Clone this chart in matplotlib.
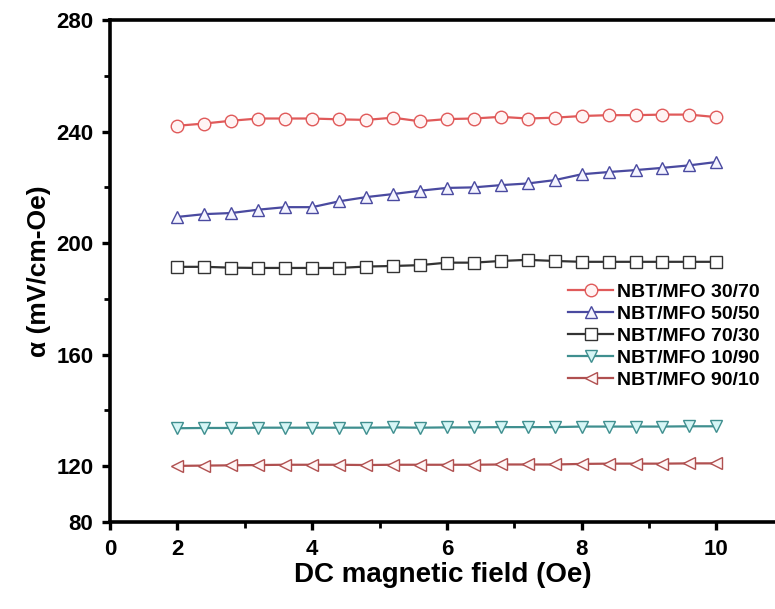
import matplotlib
matplotlib.use('Agg')
import matplotlib.pyplot as plt
from matplotlib.ticker import FixedLocator

plt.rcParams['font.family'] = ['Liberation Sans Narrow', 'Liberation Sans', 'DejaVu Sans']
plt.rcParams['font.weight'] = 'bold'

# field values (Oe)
field = [2.0, 2.4, 2.8, 3.2, 3.6, 4.0, 4.4, 4.8, 5.2, 5.6, 6.0,
         6.4, 6.8, 7.2, 7.6, 8.0, 8.4, 8.8, 9.2, 9.6, 10.0]

s_30_70 = [242.1, 242.9, 243.9, 244.7, 244.7, 244.7, 244.4, 244.2, 245.0, 243.7, 244.5,
           244.7, 245.3, 244.7, 245.0, 245.6, 245.9, 245.9, 246.1, 246.1, 245.2]
s_50_50 = [209.4, 210.4, 210.8, 212.0, 212.9, 212.9, 215.0, 216.5, 217.6, 218.8, 219.8,
           220.0, 220.8, 221.4, 222.6, 224.7, 225.5, 226.2, 227.0, 227.9, 229.1]
s_70_30 = [191.5, 191.5, 191.2, 191.1, 191.1, 191.1, 191.1, 191.6, 191.8, 192.1, 193.0,
           193.0, 193.6, 194.0, 193.6, 193.3, 193.3, 193.3, 193.3, 193.3, 193.3]
s_10_90 = [133.6, 133.7, 133.7, 133.8, 133.8, 133.8, 133.8, 133.8, 133.9, 133.8, 133.9,
           133.9, 134.0, 134.0, 134.0, 134.2, 134.2, 134.2, 134.2, 134.3, 134.3]
s_90_10 = [120.1, 120.2, 120.3, 120.4, 120.5, 120.5, 120.5, 120.4, 120.5, 120.5, 120.5,
           120.5, 120.6, 120.6, 120.6, 120.8, 120.9, 120.9, 120.9, 121.0, 121.0]

labels = ['NBT/MFO 30/70', 'NBT/MFO 50/50', 'NBT/MFO 70/30', 'NBT/MFO 10/90', 'NBT/MFO 90/10']

# tick positions and the labels printed on them in the original
xticks = [1, 2, 4, 6, 8, 10]
xtick_labels = ['0', '2', '4', '6', '8', '10']
yticks = [100, 120, 160, 200, 240, 280]
ytick_labels = ['80', '120', '160', '200', '240', '280']

fig = plt.figure(figsize=(7.75, 6.09), dpi=100)
ax = fig.add_axes([0.142, 0.143, 0.858, 0.824])

styles = [
    ('o', '#e05a5a', '#fff4f4'),
    ('^', '#4a4aa0', '#f4f4ff'),
    ('s', '#333333', '#ffffff'),
    ('v', '#3f8f8f', '#d6f6f6'),
    ('<', '#b05050', '#fff6f6'),
]
for ys, lab, (m, c, fc) in zip([s_30_70, s_50_50, s_70_30, s_10_90, s_90_10], labels, styles):
    ax.plot(field, ys, marker=m, color=c, mfc=fc, mec=c, ms=9, lw=1.6, mew=1.0, label=lab)

ax.set_xlim(1, 10.87)
ax.set_ylim(100, 280)
ax.set_xticks(xticks)
ax.set_xticklabels(xtick_labels)
ax.set_yticks(yticks)
ax.set_yticklabels(ytick_labels)
ax.xaxis.set_minor_locator(FixedLocator([3, 5, 7, 9]))
ax.yaxis.set_minor_locator(FixedLocator([140, 180, 220, 260]))

for sp in ['left', 'bottom', 'top']:
    ax.spines[sp].set_linewidth(2.6)
ax.spines['right'].set_visible(False)
ax.tick_params(which='major', direction='out', length=6, width=2.4, labelsize=16, pad=6)
ax.tick_params(which='minor', direction='out', length=4, width=2.0)

ax.set_xlabel('DC magnetic field (Oe)', fontsize=20, fontweight='bold', labelpad=2)
ax.set_ylabel('α (mV/cm-Oe)', fontsize=19, fontweight='bold', labelpad=4)

ax.legend(loc='upper right', bbox_to_anchor=(1.003, 0.51), frameon=False,
          handlelength=2.3, handletextpad=0.2, labelspacing=0.22,
          prop={'weight': 'bold', 'size': 14})

fig.savefig('out.png', dpi=100)
